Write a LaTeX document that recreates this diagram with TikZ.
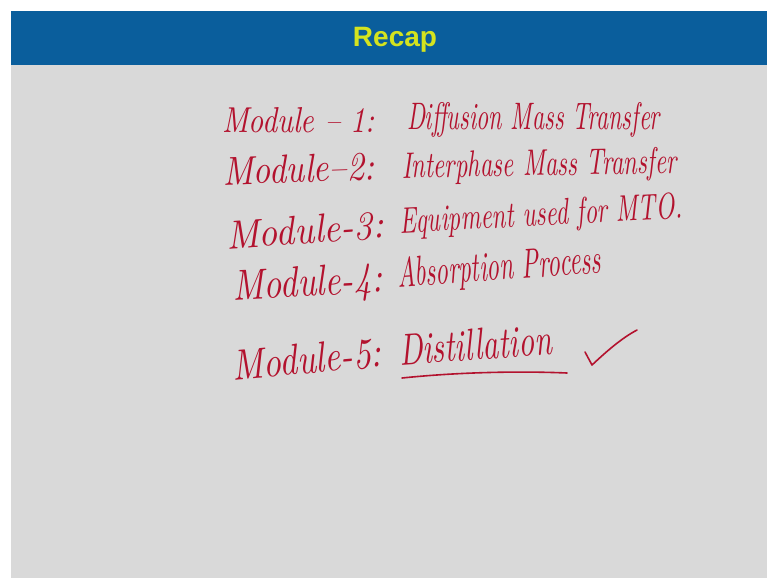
\documentclass[tikz,border=0pt]{standalone}
\usepackage{fontspec}
\usepackage{graphicx}
\newfontfamily\headfont{Liberation Sans}
\definecolor{hdrblue}{HTML}{0A5E9C}
\definecolor{hdryellow}{HTML}{D4E31F}
\definecolor{inkred}{HTML}{B3122E}
\definecolor{panelgray}{HTML}{D9D9D9}
\newcommand{\hwtext}[3]{\resizebox{#1pt}{#2pt}{\itshape #3}}
\tikzset{
  hw/.style={anchor=base west, inner sep=0pt, outer sep=0pt, text=inkred},
  ink/.style={draw=inkred, line width=1.6pt, line cap=round, line join=round}
}
\begin{document}
\begin{tikzpicture}[x=1pt,y=-1pt]
\useasboundingbox (0,0) rectangle (767,578);
\fill[white] (0,0) rectangle (767,578);
\fill[panelgray] (11,11) rectangle (767,578);
\fill[hdrblue] (11,11) rectangle (767,65);
\node[anchor=base, text=hdryellow, inner sep=0pt] (title) at (395,47) {\headfont\bfseries\fontsize{28}{32}\selectfont Recap};

\node[hw] (m1) at (222,132) {\hwtext{153}{25}{Module -- 1:}};
\node[hw] (t1) at (407,129) {\hwtext{253}{27}{Diffusion Mass Transfer}};

\node[hw, rotate=2] (m2) at (223,185) {\hwtext{152}{28}{Module--2:}};
\node[hw, rotate=1] (t2) at (402,178) {\hwtext{275}{26}{Interphase Mass Transfer}};

\node[hw, rotate=4] (m3) at (227,249) {\hwtext{158}{28}{Module-3:}};
\node[hw, rotate=3] (t3) at (400,233) {\hwtext{283}{26}{Equipment used for MTO.}};

\node[hw, rotate=3] (m4) at (233,300) {\hwtext{150}{30}{Module-4:}};
\node[hw, rotate=4] (t4) at (398,287) {\hwtext{204}{30}{Absorption Process}};

\node[hw, rotate=5] (m5) at (233,380) {\hwtext{150}{30}{Module-5:}};
\node[hw, rotate=4] (t5) at (400,365) {\hwtext{153}{31}{Distillation}};

\coordinate (ulA) at (402,378);
\coordinate (ulB) at (567,373);
\draw[ink] (ulA) .. controls (460,372) and (520,371) .. (ulB);

\coordinate (ckA) at (585,352);
\coordinate (ckB) at (592,365);
\coordinate (ckC) at (637,330);
\draw[ink] (ckA) .. controls (588,358) .. (ckB) .. controls (608,350) and (622,338) .. (ckC);
\end{tikzpicture}
\end{document}
